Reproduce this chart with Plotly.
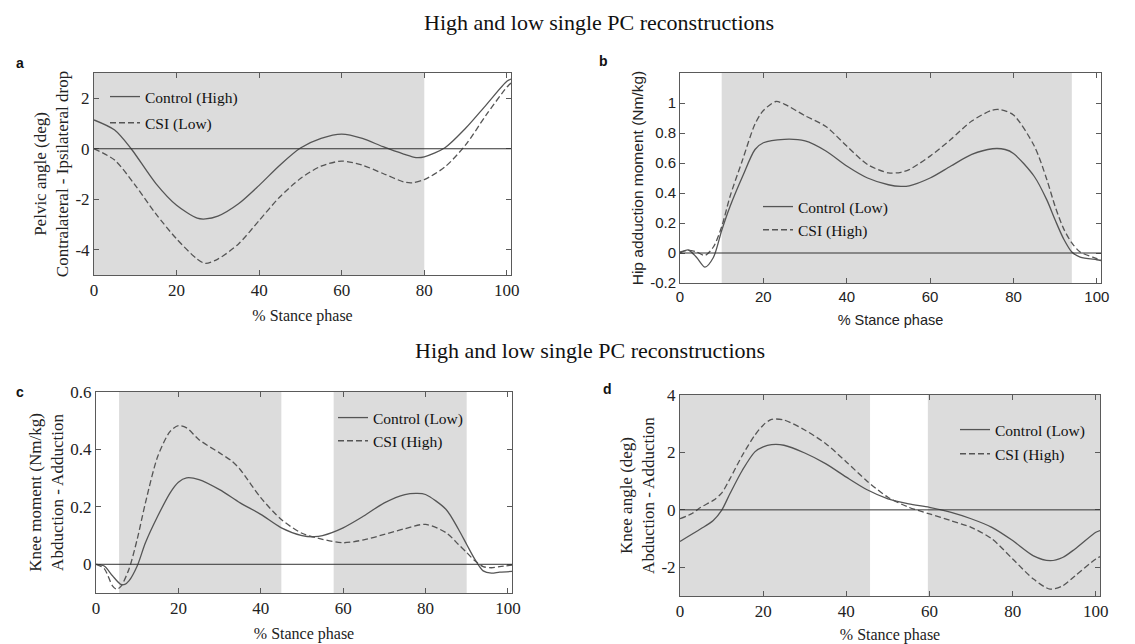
import plotly.graph_objects as go

# ---------------- data ----------------
# Panel a: pelvic angle
a_x = [0, 5, 9, 15, 20, 25, 27, 30, 35, 40, 45, 50, 55, 60, 65, 70, 75, 78, 80, 85, 90, 95, 100, 101]
a_ctrl = [1.14, 0.74, 0.0, -1.38, -2.24, -2.75, -2.78, -2.67, -2.18, -1.45, -0.65, 0.03, 0.41, 0.58,
          0.41, 0.08, -0.21, -0.35, -0.32, 0.04, 0.81, 1.74, 2.67, 2.76]
a_x2 = [0, 5, 10, 15, 20, 25, 27, 30, 35, 40, 45, 50, 55, 60, 65, 70, 75, 77, 80, 85, 90, 95, 100, 101]
a_csi = [0.0, -0.45, -1.45, -2.58, -3.57, -4.37, -4.54, -4.37, -3.77, -2.84, -1.91, -1.18, -0.69, -0.49,
         -0.65, -0.98, -1.31, -1.35, -1.22, -0.72, 0.15, 1.34, 2.44, 2.6]
a_yticks = [-4, -2, 0, 2]
a_yticktext = ["-4", "-2", "0", "2"]

# Panel b: hip adduction moment
b_x = [0, 2, 4, 6, 8, 10, 12, 15, 18, 20, 25, 30, 35, 40, 45, 50, 53, 55, 60, 65, 70, 75, 78, 80,
       85, 88, 90, 92, 94, 96, 100, 101]
b_ctrl = [0.0, 0.02, -0.03, -0.094, -0.03, 0.15, 0.31, 0.51, 0.69, 0.735, 0.758, 0.747, 0.68, 0.58,
          0.50, 0.455, 0.444, 0.448, 0.50, 0.58, 0.657, 0.695, 0.69, 0.664, 0.51, 0.354, 0.22, 0.096,
          0.007, -0.027, -0.045, -0.05]
b_x2 = [0, 2, 4, 6, 8, 10, 12, 15, 18, 20, 23, 25, 30, 35, 40, 45, 50, 53, 55, 60, 65, 70, 75, 77,
        80, 85, 88, 90, 92, 94, 96, 100, 101]
b_csi = [0.007, 0.018, 0.007, -0.016, 0.04, 0.175, 0.377, 0.62, 0.86, 0.95, 1.01, 0.993, 0.915,
         0.843, 0.713, 0.59, 0.534, 0.538, 0.556, 0.646, 0.758, 0.88, 0.953, 0.955, 0.92, 0.713,
         0.49, 0.31, 0.164, 0.067, 0.007, -0.038, -0.05]
b_yticks = [-0.2, 0, 0.2, 0.4, 0.6, 0.8, 1]
b_yticktext = ["-0.2", "0", "0.2", "0.4", "0.6", "0.8", "1"]

# Panel c: knee moment
c_x = [0, 2, 4, 6, 7, 8, 10, 12, 15, 18, 20, 22, 25, 30, 35, 40, 45, 50, 53, 55, 60, 65, 70, 75,
       78, 80, 85, 88, 90, 92, 94, 96, 98, 101]
c_ctrl = [0.0, -0.006, -0.04, -0.07, -0.07, -0.058, -0.006, 0.075, 0.168, 0.249, 0.286, 0.301,
          0.295, 0.26, 0.214, 0.174, 0.127, 0.10, 0.096, 0.10, 0.127, 0.168, 0.214, 0.243, 0.247,
          0.243, 0.191, 0.122, 0.069, 0.017, -0.023, -0.031, -0.027, -0.025]
c_x2 = [0, 2, 4, 5, 6, 8, 10, 12, 15, 18, 20, 22, 25, 30, 33, 35, 40, 45, 50, 55, 60, 65, 70, 75,
        80, 85, 88, 90, 92, 94, 96, 98, 101]
c_csi = [0.0, -0.015, -0.075, -0.087, -0.078, -0.017, 0.087, 0.214, 0.376, 0.463, 0.483, 0.475,
         0.434, 0.388, 0.359, 0.33, 0.232, 0.156, 0.108, 0.087, 0.075, 0.085, 0.104, 0.124, 0.139,
         0.11, 0.069, 0.041, 0.012, -0.008, -0.012, -0.008, -0.003]
c_yticks = [0, 0.2, 0.4, 0.6]
c_yticktext = ["0", "0.2", "0.4", "0.6"]

# Panel d: knee angle
d_x = [0, 5, 8, 10, 12, 15, 18, 20, 22, 25, 30, 35, 40, 45, 50, 55, 60, 65, 70, 75, 80, 85, 89,
       92, 95, 100, 101]
d_ctrl = [-1.10, -0.66, -0.37, -0.02, 0.56, 1.38, 2.02, 2.19, 2.27, 2.25, 1.98, 1.61, 1.14, 0.70,
          0.385, 0.21, 0.09, -0.08, -0.31, -0.61, -1.07, -1.60, -1.77, -1.66, -1.36, -0.78, -0.72]
d_x2 = [0, 3, 5, 8, 10, 12, 15, 18, 20, 22, 25, 30, 35, 40, 45, 50, 55, 60, 65, 70, 75, 80, 85,
        89, 92, 95, 100, 101]
d_csi = [-0.31, -0.12, 0.09, 0.33, 0.58, 1.08, 1.90, 2.60, 2.95, 3.15, 3.13, 2.78, 2.31, 1.67, 1.00,
         0.44, 0.09, -0.14, -0.37, -0.61, -1.01, -1.71, -2.41, -2.76, -2.65, -2.30, -1.71, -1.63]
d_yticks = [-2, 0, 2, 4]
d_yticktext = ["-2", "0", "2", "4"]

x_ticks = [0, 20, 40, 60, 80, 100]

# shaded regions (x start, x end)
a_shade = [(0, 80)]
b_shade = [(10, 94)]
c_shade = [(5.6, 45), (57.7, 90)]
d_shade = [(0, 45.7), (59.6, 101)]

title_text = "High and low single PC reconstructions"
x_label = "% Stance phase"

# ---------------- layout helpers ----------------
W, H = 1135, 644


def px(x):
    return x / W


def py(y):
    return 1 - y / H


SERIF = "Liberation Serif"
SANS = "Liberation Sans"
LINE = "#555555"
FRAME = "#5a5a5a"
SHADE = "#dcdcdc"

fig = go.Figure()

panels = [
    dict(ax="", x1=a_x, y1=a_ctrl, x2=a_x2, y2=a_csi, n1="Control (High)", n2="CSI (Low)",
         shade=a_shade, dom=(94, 511, 73, 275), yr=[-5, 3], yt=a_yticks, ytt=a_yticktext,
         ytitle="Pelvic angle (deg)<br>Contralateral - Ipsilateral drop", font=SERIF,
         leg="legend", lpos=(105, 80), gap=3),
    dict(ax="2", x1=b_x, y1=b_ctrl, x2=b_x2, y2=b_csi, n1="Control (Low)", n2="CSI (High)",
         shade=b_shade, dom=(680, 1101, 73, 283), yr=[-0.2, 1.2], yt=b_yticks, ytt=b_yticktext,
         ytitle="Hip adduction moment (Nm/kg)", font=SANS,
         leg="legend2", lpos=(758, 190), gap=0),
    dict(ax="3", x1=c_x, y1=c_ctrl, x2=c_x2, y2=c_csi, n1="Control (Low)", n2="CSI (High)",
         shade=c_shade, dom=(96, 512, 392, 593), yr=[-0.1, 0.6], yt=c_yticks, ytt=c_yticktext,
         ytitle="Knee moment (Nm/kg)<br>Abduction - Adduction", font=SERIF,
         leg="legend3", lpos=(333, 401), gap=0),
    dict(ax="4", x1=d_x, y1=d_ctrl, x2=d_x2, y2=d_csi, n1="Control (Low)", n2="CSI (High)",
         shade=d_shade, dom=(680, 1100, 395, 596), yr=[-3, 4], yt=d_yticks, ytt=d_yticktext,
         ytitle="Knee angle (deg)<br>Abduction - Adduction", font=SERIF,
         leg="legend4", lpos=(955, 413), gap=1),
]

shapes = []
layout_axes = {}
legends = {}
for i, p in enumerate(panels):
    xa = "x" + p["ax"]
    ya = "y" + p["ax"]
    fig.add_trace(go.Scatter(x=p["x1"], y=p["y1"], mode="lines", name=p["n1"],
                             legendgroup="g%d1" % i,
                             line=dict(color=LINE, width=1.3, shape="spline", smoothing=0.8),
                             xaxis=xa, yaxis=ya, legend=p["leg"]))
    fig.add_trace(go.Scatter(x=p["x2"], y=p["y2"], mode="lines", name=p["n2"],
                             legendgroup="g%d2" % i,
                             line=dict(color=LINE, width=1.3, dash="6px,3px", shape="spline",
                                       smoothing=0.8),
                             xaxis=xa, yaxis=ya, legend=p["leg"]))
    for (s0, s1) in p["shade"]:
        shapes.append(dict(type="rect", xref=xa, yref=ya + " domain", x0=s0, x1=s1, y0=0, y1=1,
                           fillcolor=SHADE, line=dict(width=0), layer="below"))
    shapes.append(dict(type="line", xref=xa + " domain", yref=ya, x0=0, x1=1, y0=0, y1=0,
                       line=dict(color="#333333", width=1)))
    l, r, t, b = p["dom"]
    serif = p["font"] == SERIF
    tick_font = dict(family=p["font"], size=17 if serif else 15, color="#222222")
    xt_font = dict(family=p["font"], size=16 if serif else 14.5, color="#222222")
    yt_font = dict(family=p["font"], size=17 if serif else 15.5, color="#222222")
    common = dict(showline=True, linecolor=FRAME, linewidth=1, mirror="ticks", ticks="inside",
                  ticklen=5, tickcolor=FRAME, showgrid=False, zeroline=False, tickfont=tick_font,
                  automargin=False)
    layout_axes["xaxis" + p["ax"]] = dict(
        domain=[px(l), px(r)], range=[0, 101], tickvals=x_ticks,
        ticktext=[str(v) for v in x_ticks],
        anchor=ya, title=dict(text=x_label, font=xt_font, standoff=10), **common)
    layout_axes["yaxis" + p["ax"]] = dict(
        domain=[py(b), py(t)], range=p["yr"], tickvals=p["yt"], ticktext=p["ytt"], anchor=xa,
        title=dict(text=p["ytitle"], font=yt_font, standoff=2), **common)
    lx, ly = p["lpos"]
    legends[p["leg"]] = dict(x=px(lx), y=py(ly), xanchor="left", yanchor="top",
                             bgcolor="rgba(0,0,0,0)", borderwidth=0,
                             font=dict(family=SERIF, size=15.5, color="#111111"),
                             tracegroupgap=p["gap"])

annotations = [
    dict(text=title_text, x=px(599), y=py(23), xref="paper", yref="paper", showarrow=False,
         xanchor="center", yanchor="middle", font=dict(family=SERIF, size=22, color="#111111")),
    dict(text=title_text, x=px(590), y=py(351), xref="paper", yref="paper", showarrow=False,
         xanchor="center", yanchor="middle", font=dict(family=SERIF, size=22, color="#111111")),
]
for lab, lx, ly in [("a", 20, 63), ("b", 603, 61), ("c", 20, 392), ("d", 607, 389)]:
    annotations.append(dict(text="<b>%s</b>" % lab, x=px(lx), y=py(ly), xref="paper",
                            yref="paper", showarrow=False, xanchor="center", yanchor="middle",
                            font=dict(family=SANS, size=14, color="#111111")))

fig.update_layout(width=W, height=H, margin=dict(l=0, r=0, t=0, b=0, autoexpand=False),
                  paper_bgcolor="white", plot_bgcolor="white",
                  shapes=shapes, annotations=annotations, showlegend=True,
                  **layout_axes, **legends)

fig.write_html("out.html",
               config={"displayModeBar": False},
               post_script="document.body.style.margin='0px';"
                           "document.body.style.overflow='hidden';")
